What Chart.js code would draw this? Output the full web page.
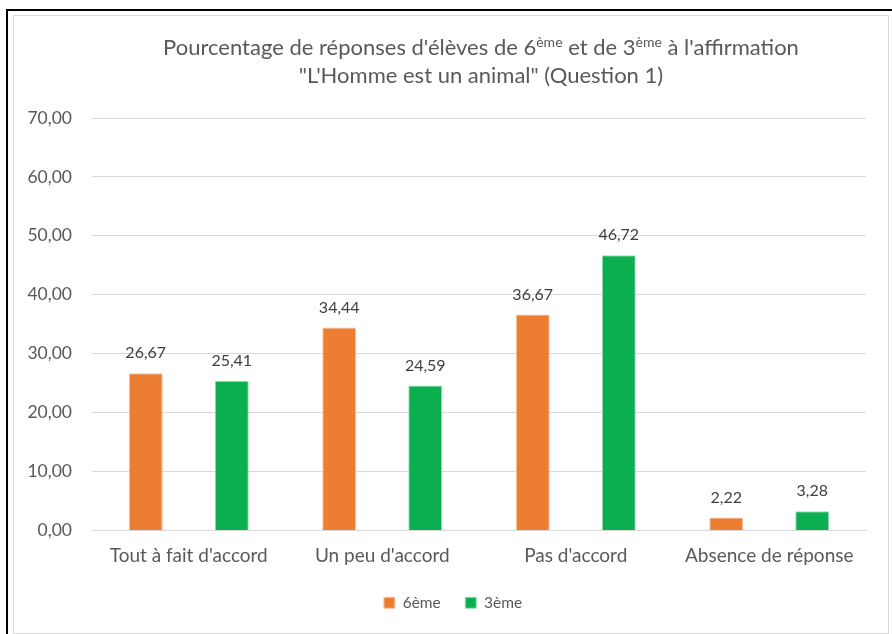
<!DOCTYPE html>
<html>
<head>
<meta charset="utf-8">
<script src="https://cdn.jsdelivr.net/npm/chart.js@4.4.1/dist/chart.umd.min.js"></script>
<style>
  html, body { margin: 0; padding: 0; background: #fff; overflow: hidden; }
  #outer { position: absolute; left: 6px; top: 9px; width: 1000px; height: 1000px; border: 2px solid #000; box-sizing: border-box; }
  #inner { position: absolute; left: 13px; top: 15px; width: 876px; height: 619px; border: 1px solid #d9d9d9; box-sizing: border-box; }
  #wrap { position: absolute; left: 0; top: 0; width: 892px; height: 634px; }
</style>
</head>
<body>
<div id="outer"></div>
<div id="inner"></div>
<div id="wrap"><canvas id="c" width="892" height="634"></canvas></div>
<script>
const categories = ["Tout à fait d'accord", "Un peu d'accord", "Pas d'accord", "Absence de réponse"];
const series6eme = [26.67, 34.44, 36.67, 2.22];
const series3eme = [25.41, 24.59, 46.72, 3.28];
const seriesNames = ["6ème", "3ème"];
const yTicks = [0, 10, 20, 30, 40, 50, 60, 70];
const titleLine1 = [["Pourcentage de réponses d'élèves de 6", false], ["ème", true], [" et de 3", false], ["ème", true], [" à l'affirmation", false]];
const titleLine2 = "\"L'Homme est un animal\" (Question 1)";

const FONT = "Lato, 'Open Sans', sans-serif";
const fmt = v => Number(v).toFixed(2).replace('.', ',');

const titlePlugin = {
  id: 'richTitle',
  afterDraw(chart) {
    const ctx = chart.ctx;
    const cx = (chart.chartArea.left + chart.chartArea.right) / 2 + 2;
    ctx.save();
    ctx.fillStyle = '#595959';
    ctx.textBaseline = 'alphabetic';
    ctx.textAlign = 'left';
    const big = "22px " + FONT, small = "14px " + FONT;
    let total = 0;
    titleLine1.forEach(([t, sup]) => { ctx.font = sup ? small : big; total += ctx.measureText(t).width; });
    let x = cx - total / 2;
    const y1 = 55;
    titleLine1.forEach(([t, sup]) => {
      ctx.font = sup ? small : big;
      ctx.fillText(t, x, sup ? y1 - 8 : y1);
      x += ctx.measureText(t).width;
    });
    ctx.font = big;
    ctx.textAlign = 'center';
    ctx.fillText(titleLine2, cx, 83);
    ctx.restore();
  }
};

const valueLabels = {
  id: 'valueLabels',
  afterDatasetsDraw(chart) {
    const ctx = chart.ctx;
    ctx.save();
    ctx.fillStyle = '#404040';
    ctx.font = "16px " + FONT;
    ctx.textAlign = 'center';
    ctx.textBaseline = 'bottom';
    chart.data.datasets.forEach((ds, i) => {
      chart.getDatasetMeta(i).data.forEach((el, j) => {
        ctx.fillText(fmt(ds.data[j]), el.x, el.y - 12);
      });
    });
    ctx.restore();
  }
};

// centre the legend under the whole frame rather than the padded box
const legendShift = {
  id: 'legendShift',
  beforeDraw(chart) { if (chart.legend) chart.legend.left = 40; }
};

new Chart(document.getElementById('c'), {
  type: 'bar',
  data: {
    labels: categories,
    datasets: [
      { label: seriesNames[0], data: series6eme, backgroundColor: '#ED7D31', borderColor: '#F6C4A3', borderWidth: 1 },
      { label: seriesNames[1], data: series3eme, backgroundColor: '#0BAF50', borderColor: '#9BDDB4', borderWidth: 1 }
    ]
  },
  options: {
    responsive: false,
    animation: false,
    devicePixelRatio: 1,
    layout: { padding: { top: 118, right: 26, left: 0, bottom: 13.5 } },
    datasets: { bar: { categoryPercentage: 0.889, barPercentage: 0.395 } },
    scales: {
      x: {
        afterFit(scale) { scale.height = 40; },
        grid: { display: false, drawTicks: false },
        border: { display: true, color: '#d9d9d9', width: 1 },
        ticks: { color: '#595959', font: { family: FONT, size: 19 }, padding: 14, maxRotation: 0 }
      },
      y: {
        min: 0, max: 70,
        afterFit(scale) { scale.width = 92; },
        afterBuildTicks(scale) { scale.ticks = yTicks.map(v => ({ value: v })); },
        grid: { color: '#d9d9d9', drawTicks: false },
        border: { display: false },
        ticks: { color: '#595959', font: { family: FONT, size: 17.5 }, padding: 20, callback: v => fmt(v) }
      }
    },
    plugins: {
      title: { display: false },
      tooltip: { enabled: false },
      legend: {
        position: 'bottom',
        labels: { color: '#595959', font: { family: FONT, size: 15.5 }, boxWidth: 11, boxHeight: 11, padding: 24.5 }
      }
    }
  },
  plugins: [titlePlugin, valueLabels, legendShift]
});
</script>
</body>
</html>
